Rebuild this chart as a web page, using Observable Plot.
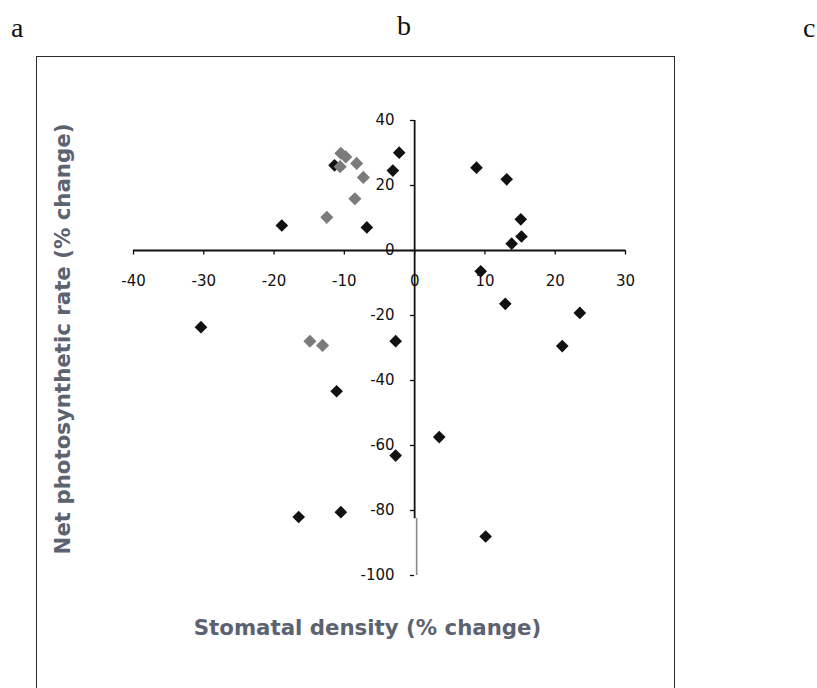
<!DOCTYPE html>
<html>
<head>
<meta charset="utf-8">
<script src="https://cdn.jsdelivr.net/npm/d3@7"></script>
<script src="https://cdn.jsdelivr.net/npm/@observablehq/plot@0.6"></script>
<style>
  html, body { margin: 0; padding: 0; background: #fff; overflow: hidden; }
  #wrap { position: relative; width: 817px; height: 688px; overflow: hidden; }
  #wrap svg { position: absolute; left: 0; top: 0; }
  .panel { position: absolute; font-family: "Liberation Serif", "DejaVu Serif", serif; font-size: 28px; color: #111; line-height: 1; }
  #frame { position: absolute; left: 36px; top: 56px; width: 637px; height: 700px; border: 1.6px solid #2a2a2a; }
</style>
</head>
<body>
<div id="wrap">
  <div id="frame"></div>
  <div class="panel" style="left:11px; top:14px;">a</div>
  <div class="panel" style="left:397px; top:12px;">b</div>
  <div class="panel" style="left:803px; top:14px;">c</div>
</div>
<script>
// ---- data ----
const xTicks = [-40, -30, -20, -10, 0, 10, 20, 30];
const yTicks = [-100, -80, -60, -40, -20, 0, 20, 40];

// black diamonds: stomatal density change (x), net photosynthetic rate change (y)
const blackX = [-11.4, -2.2, -3.1, -6.8, -18.9, 8.8, 13.1, 15.1, 15.2, 13.8, 9.4, -30.4, -11.1, -2.7, -2.7, 12.9, 23.5, 21.0, 3.5, 10.1, -16.5, -10.5];
const blackY = [26.2, 30.1, 24.6, 7.1, 7.7, 25.5, 21.9, 9.6, 4.3, 2.1, -6.4, -23.6, -43.3, -27.9, -63.1, -16.4, -19.2, -29.4, -57.4, -88.0, -82.0, -80.5];

// grey diamonds
const greyX = [-10.5, -9.8, -10.6, -8.25, -7.3, -8.5, -12.5, -14.9, -13.1];
const greyY = [29.9, 28.8, 25.8, 26.8, 22.5, 15.9, 10.2, -27.9, -29.2];

const xTitle = "Stomatal density (% change)";
const yTitle = "Net photosynthetic rate (% change)";

const black = blackX.map((x, i) => ({x, y: blackY[i]}));
const grey = greyX.map((x, i) => ({x, y: greyY[i]}));

const chart = Plot.plot({
  width: 817,
  height: 688,
  marginLeft: 133,
  marginRight: 192,
  marginTop: 120,
  marginBottom: 113,
  x: {domain: [-40, 30], axis: null},
  y: {domain: [-100, 40], axis: null},
  style: {fontFamily: "DejaVu Sans, Arial, sans-serif", background: "transparent", color: "#111"},
  marks: [
    // axes crossing at the origin
    Plot.ruleY([0], {x1: -40, x2: 30, stroke: "#111", strokeWidth: 1.8}),
    Plot.ruleX([0], {y1: 40, y2: -82.5, stroke: "#111", strokeWidth: 1.8}),
    Plot.ruleX([0], {y1: -82.5, y2: -100, stroke: "#8a8a8a", strokeWidth: 1.6, dx: 2}),
    // tick marks
    Plot.ruleX(xTicks, {x: d => d, y1: 0, y2: -1.4, stroke: "#111", strokeWidth: 1.3}),
    Plot.ruleY(yTicks, {y: d => d, x1: 0, x2: -0.6, stroke: "#111", strokeWidth: 1.3}),
    // tick labels
    Plot.text(xTicks, {x: d => d, y: 0, dy: 31, text: d => String(d), fontSize: 15, fill: "#111"}),
    Plot.text(yTicks, {x: 0, y: d => d, dx: -20, text: d => String(d), textAnchor: "end", fontSize: 15, fill: "#111"}),
    // data
    Plot.dot(black.slice(0, 1), {x: "x", y: "y", symbol: "diamond2", r: 5.7, fill: "#111", stroke: "none"}),
    Plot.dot(grey, {x: "x", y: "y", symbol: "diamond2", r: 5.9, fill: "#7b7b7b", stroke: "none"}),
    Plot.dot(black.slice(1), {x: "x", y: "y", symbol: "diamond2", r: 5.7, fill: "#111", stroke: "none"}),
    // axis titles
    Plot.text([xTitle], {frameAnchor: "bottom", dx: -12, dy: 59, text: d => d, fontSize: 21.3, fontWeight: "bold", fill: "#5b6270"}),
    Plot.text([yTitle], {frameAnchor: "left", textAnchor: "middle", dx: -70, dy: -9, rotate: -90, text: d => d, fontSize: 21.3, fontWeight: "bold", fill: "#5b6270"})
  ]
});

document.getElementById("wrap").appendChild(chart);
</script>
</body>
</html>
